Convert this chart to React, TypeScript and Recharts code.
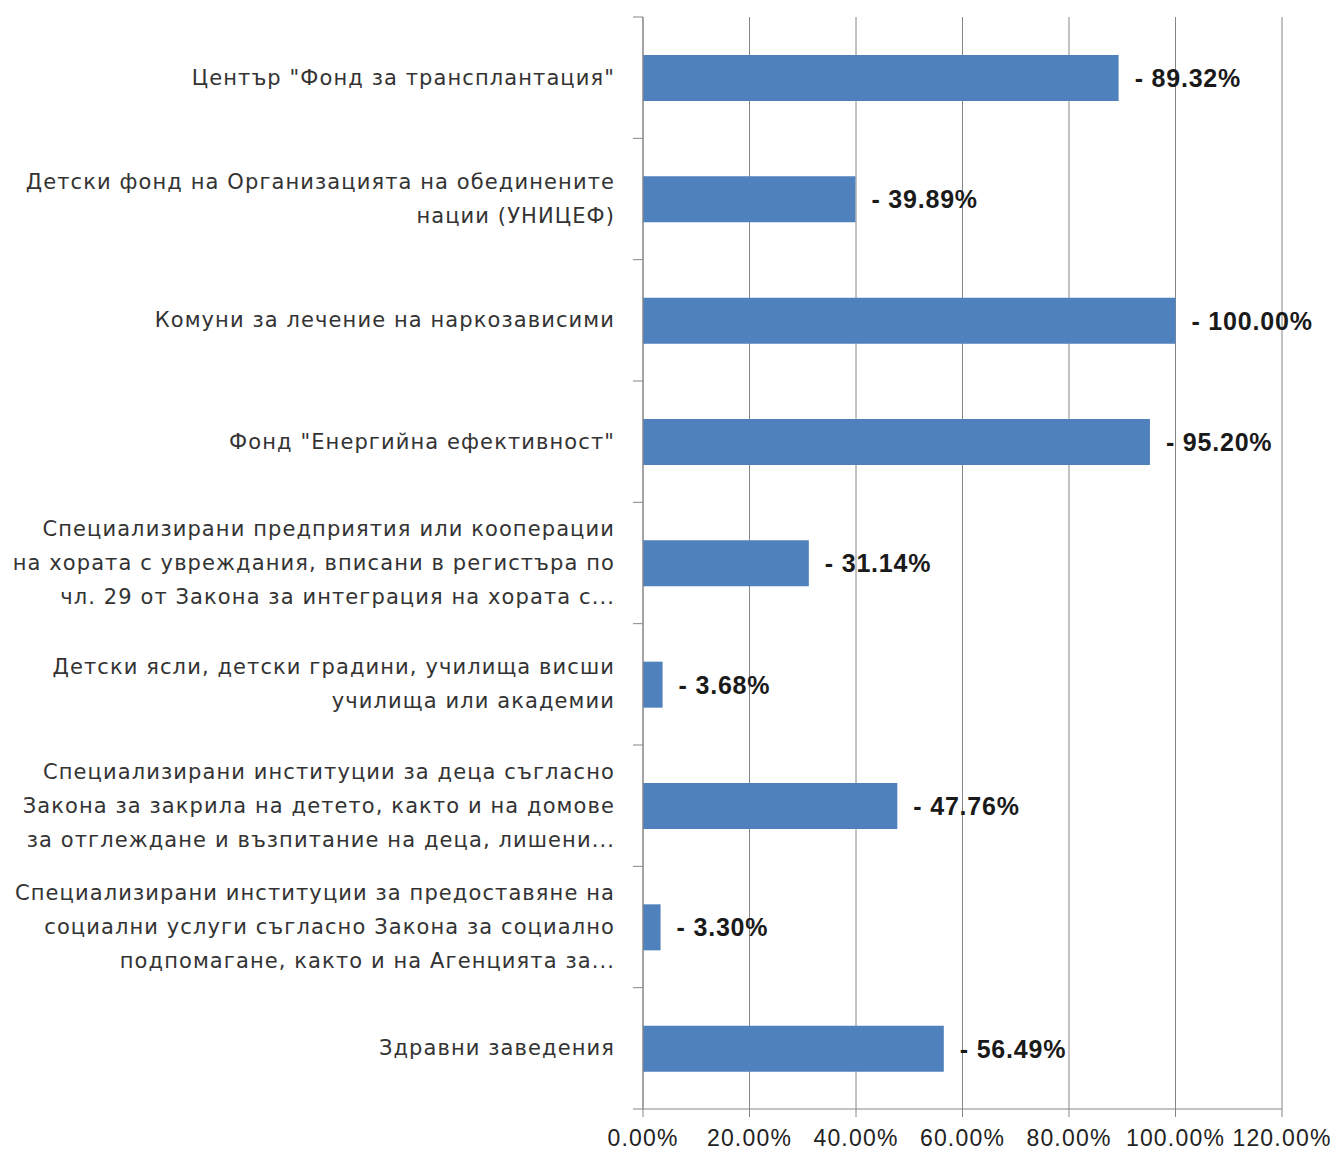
import React from "react";
import { BarChart, Bar, XAxis, YAxis, CartesianGrid, LabelList } from "recharts";

const categories = [
  'Център "Фонд за трансплантация"',
  "Детски фонд на Организацията на обединените\nнации (УНИЦЕФ)",
  "Комуни за лечение на наркозависими",
  'Фонд "Енергийна ефективност"',
  "Специализирани предприятия или кооперации\nна хората с увреждания,  вписани в регистъра по\nчл. 29 от Закона за интеграция на хората с...",
  "Детски ясли, детски градини, училища висши\nучилища или академии",
  "Специализирани институции за деца съгласно\nЗакона за закрила на детето, както и на домове\nза отглеждане и възпитание на деца, лишени...",
  "Специализирани институции за предоставяне на\nсоциални услуги съгласно Закона за социално\nподпомагане, както и на Агенцията за...",
  "Здравни заведения",
];

const values = [89.32, 39.89, 100.0, 95.2, 31.14, 3.68, 47.76, 3.3, 56.49];

const xTicks = [0, 20, 40, 60, 80, 100, 120];

const data = categories.map((name, i) => ({ name, value: values[i] }));

const W = 1338;
const H = 1158;
const TOP = 17;
const AXIS_W = 643;
const X_AXIS_H = 49;
const BAND = (H - TOP - X_AXIS_H) / categories.length;
const TICK_MARGIN = 28;
const FONT = "'DejaVu Sans', sans-serif";

const CategoryTick = (props: any) => {
  const { x, y, payload, index } = props;
  const lines = String(payload.value).split("\n");
  const lh = 34;
  const axisX = x + TICK_MARGIN;
  const startY = y - ((lines.length - 1) * lh) / 2;
  return (
    <g>
      <line x1={axisX - 10} x2={axisX} y1={y - BAND / 2} y2={y - BAND / 2} stroke="#868686" />
      {index === categories.length - 1 && (
        <line x1={axisX - 10} x2={axisX} y1={y + BAND / 2} y2={y + BAND / 2} stroke="#868686" />
      )}
      <text
        x={x}
        y={startY}
        textAnchor="end"
        dominantBaseline="central"
        fill="#333"
        fontSize={21}
        letterSpacing={1.1}
        fontFamily={FONT}
      >
        {lines.map((l, i) => (
          <tspan key={i} x={x} dy={i === 0 ? 0 : lh}>
            {l}
          </tspan>
        ))}
      </text>
    </g>
  );
};

const App = () => {
  return (
    <div style={{ position: "absolute", left: 0, top: 0, background: "#fff" }}>
      <BarChart
        width={W}
        height={H}
        data={data}
        layout="vertical"
        margin={{ top: TOP, right: 56, left: 0, bottom: 0 }}
      >
        <CartesianGrid horizontal={false} stroke="#868686" />
        <XAxis
          type="number"
          domain={[0, 120]}
          ticks={xTicks}
          interval={0}
          height={X_AXIS_H}
          tickFormatter={(v: number) => `${v.toFixed(2)}%`}
          tick={{ fill: "#222", fontSize: 23, letterSpacing: 1.2, fontFamily: "'Liberation Sans', sans-serif" }}
          tickSize={8}
          tickMargin={13}
          axisLine={{ stroke: "#868686" }}
          tickLine={{ stroke: "#868686" }}
        />
        <YAxis
          type="category"
          dataKey="name"
          width={AXIS_W}
          interval={0}
          tickSize={0}
          tickMargin={TICK_MARGIN}
          tickLine={false}
          axisLine={{ stroke: "#868686" }}
          tick={<CategoryTick />}
        />
        <Bar dataKey="value" fill="#4F81BD" barSize={46} isAnimationActive={false}>
          <LabelList
            dataKey="value"
            position="right"
            offset={16}
            formatter={(v: any) => `- ${Number(v).toFixed(2)}%`}
            style={{ fontWeight: "bold", fontSize: 25, letterSpacing: 0.8, fontFamily: "'Liberation Sans', sans-serif", fill: "#1a1a1a" }}
          />
        </Bar>
      </BarChart>
    </div>
  );
};

export default App;
